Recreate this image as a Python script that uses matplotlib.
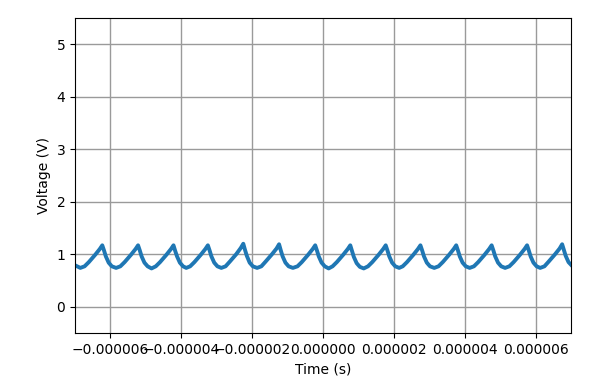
import numpy as np
import matplotlib
matplotlib.use("Agg")
import matplotlib.pyplot as plt
from matplotlib.ticker import FuncFormatter

# Time samples in microseconds
time_us = [
    -7.00, -6.85, -6.73, -6.61, -6.43, -6.30, -6.23, -6.18, -6.13, -6.05, -5.96,
    -5.84, -5.72, -5.60, -5.42, -5.29, -5.22, -5.17, -5.12, -5.04, -4.95,
    -4.84, -4.72, -4.60, -4.42, -4.29, -4.22, -4.17, -4.12, -4.04, -3.95,
    -3.86, -3.75, -3.63, -3.45, -3.32, -3.25, -3.20, -3.15, -3.07, -2.98,
    -2.87, -2.75, -2.63, -2.45, -2.32, -2.25, -2.20, -2.15, -2.07, -1.98,
    -1.86, -1.74, -1.62, -1.44, -1.31, -1.24, -1.19, -1.14, -1.06, -0.97,
    -0.85, -0.72, -0.60, -0.42, -0.29, -0.22, -0.17, -0.12, -0.04, 0.05,
    0.16, 0.27, 0.39, 0.57, 0.70, 0.77, 0.82, 0.87, 0.95, 1.04,
    1.15, 1.27, 1.39, 1.57, 1.70, 1.77, 1.82, 1.87, 1.95, 2.04,
    2.15, 2.25, 2.37, 2.55, 2.68, 2.75, 2.80, 2.85, 2.93, 3.02,
    3.14, 3.26, 3.38, 3.56, 3.69, 3.76, 3.81, 3.86, 3.94, 4.03,
    4.14, 4.26, 4.38, 4.56, 4.69, 4.76, 4.81, 4.86, 4.94, 5.03,
    5.14, 5.26, 5.38, 5.56, 5.69, 5.76, 5.81, 5.86, 5.94, 6.03,
    6.13, 6.25, 6.37, 6.55, 6.68, 6.75, 6.80, 6.85, 6.93, 7.00,
]

# Voltage samples (V)
voltage = [
    0.79, 0.74, 0.77, 0.85, 0.99, 1.10, 1.17, 1.07, 0.96, 0.84, 0.77,
    0.74, 0.77, 0.85, 0.99, 1.10, 1.17, 1.07, 0.96, 0.84, 0.77,
    0.73, 0.77, 0.85, 0.99, 1.10, 1.17, 1.06, 0.96, 0.84, 0.77,
    0.74, 0.77, 0.85, 0.99, 1.10, 1.17, 1.07, 0.96, 0.84, 0.77,
    0.74, 0.77, 0.86, 1.00, 1.12, 1.20, 1.08, 0.97, 0.84, 0.77,
    0.74, 0.77, 0.86, 1.00, 1.11, 1.19, 1.07, 0.96, 0.84, 0.77,
    0.74, 0.77, 0.85, 0.99, 1.10, 1.17, 1.07, 0.96, 0.84, 0.77,
    0.73, 0.77, 0.85, 0.99, 1.10, 1.17, 1.06, 0.95, 0.83, 0.76,
    0.73, 0.77, 0.85, 0.99, 1.10, 1.17, 1.07, 0.96, 0.84, 0.77,
    0.74, 0.77, 0.85, 0.99, 1.10, 1.17, 1.07, 0.96, 0.84, 0.77,
    0.74, 0.77, 0.85, 0.99, 1.10, 1.17, 1.07, 0.96, 0.84, 0.77,
    0.74, 0.77, 0.85, 0.99, 1.10, 1.17, 1.07, 0.96, 0.84, 0.77,
    0.74, 0.77, 0.85, 0.99, 1.10, 1.17, 1.07, 0.96, 0.84, 0.77,
    0.74, 0.77, 0.86, 1.00, 1.11, 1.19, 1.08, 0.97, 0.85, 0.80,
]

x_ticks = [-0.000006, -0.000004, -0.000002, 0.0, 0.000002, 0.000004, 0.000006]
y_ticks = [0, 1, 2, 3, 4, 5]

t = np.array(time_us) * 1e-6
v = np.array(voltage)

fig = plt.figure(figsize=(5.95, 3.84), dpi=100)
ax = fig.add_axes([75 / 595, 51 / 384, 496 / 595, 315 / 384])
ax.plot(t, v, color="#1f77b4", linewidth=2.8, solid_joinstyle="round")

ax.set_xlim(-7e-6, 7e-6)
ax.set_ylim(-0.5, 5.5)
ax.set_xticks(x_ticks)
ax.set_yticks(y_ticks)


def fmt(x, pos):
    s = f"{x:.6f}"
    if abs(x) < 1e-12:
        s = "0.000000"
    return s.replace("-", "\u2212")


ax.xaxis.set_major_formatter(FuncFormatter(fmt))
ax.grid(True, color="#9a9a9a", linewidth=1.0)
ax.set_xlabel("Time (s)")
ax.set_ylabel("Voltage (V)")

fig.savefig("out.png", dpi=100)
